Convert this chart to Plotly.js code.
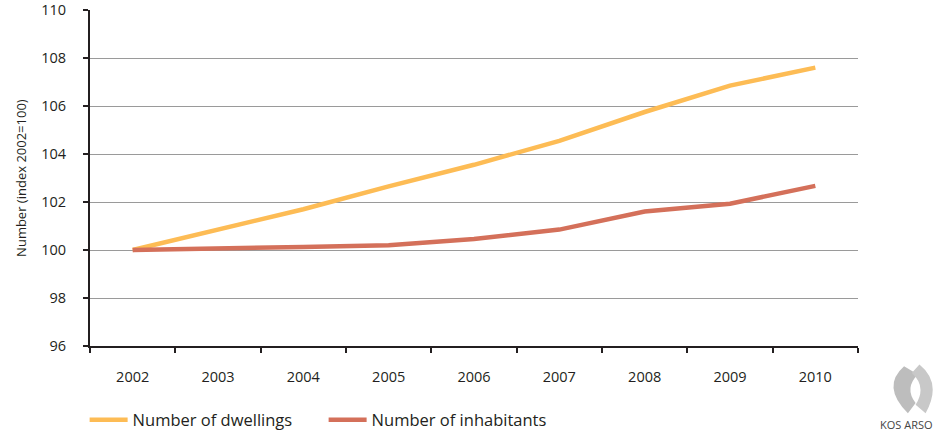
<!DOCTYPE html>
<html>
<head>
<meta charset="utf-8">
<script src="https://cdn.plot.ly/plotly-3.0.1.min.js"></script>
<style>html,body{margin:0;padding:0;background:#fff;}#chart{width:933px;height:435px;}</style>
</head>
<body>
<div id="chart"></div>
<script>
var years = ["2002","2003","2004","2005","2006","2007","2008","2009","2010"];
var dwellings = [100, 100.85, 101.7, 102.65, 103.55, 104.55, 105.75, 106.85, 107.6];
var inhabitants = [100, 100.05, 100.13, 100.2, 100.46, 100.85, 101.6, 101.93, 102.67];
var seriesNames = ["Number of dwellings", "Number of inhabitants"];
var seriesColors = ["#FDBC55", "#D4705A"];
var yTicks = [96, 98, 100, 102, 104, 106, 108, 110];

var FONT = "'Open Sans', Lato, sans-serif";

var traces = [
  {x: years, y: dwellings, name: seriesNames[0], type: "scatter", mode: "lines",
   line: {color: seriesColors[0], width: 4.5}},
  {x: years, y: inhabitants, name: seriesNames[1], type: "scatter", mode: "lines",
   line: {color: seriesColors[1], width: 4.5}}
];

var layout = {
  width: 933, height: 435,
  margin: {l: 90, r: 75, t: 10, b: 89, autoexpand: false},
  paper_bgcolor: "#fff", plot_bgcolor: "#fff",
  font: {family: FONT, size: 14, color: "#231f20"},
  showlegend: true,
  legend: {orientation: "h", x: -0.007, xanchor: "left", y: -0.22, yanchor: "middle",
           font: {family: FONT, size: 16.5, color: "#231f20"},
           entrywidth: 186, entrywidthmode: "pixels", itemwidth: 38},
  xaxis: {type: "category", range: [-0.5, 8.5], showgrid: false, zeroline: false,
          showline: true, linecolor: "#231f20", linewidth: 2,
          ticks: "outside", tickson: "boundaries", ticklen: 5, tickwidth: 2, tickcolor: "#231f20",
          ticklabelstandoff: 17, tickfont: {family: FONT, size: 14.5}},
  yaxis: {range: [96, 110], tickvals: yTicks, showgrid: true, gridcolor: "#9a9a9a", gridwidth: 1,
          zeroline: false, showline: true, linecolor: "#231f20", linewidth: 2,
          ticks: "outside", ticklen: 5, tickwidth: 2, tickcolor: "#231f20",
          ticklabelstandoff: 14, tickfont: {family: FONT, size: 14.5}},
  annotations: [
    {xref: "paper", yref: "paper", x: -0.09, y: 0.5, xanchor: "center", yanchor: "middle",
     textangle: -90, text: "Number (index 2002=100)", showarrow: false,
     font: {family: FONT, size: 13, color: "#231f20"}},
    {xref: "paper", yref: "paper", x: 1.026, y: -0.262, xanchor: "left", yanchor: "bottom",
     text: "KOS ARSO", showarrow: false, font: {family: FONT, size: 11, color: "#444"}}
  ],
  shapes: [
    {type: "path", xref: "paper", yref: "paper", layer: "above",
     path: "M 1.06 -0.06 Q 1.03 -0.12 1.065 -0.2 L 1.075 -0.17 Q 1.06 -0.125 1.078 -0.085 Z",
     fillcolor: "#bdbdbd", line: {width: 0}},
    {type: "path", xref: "paper", yref: "paper", layer: "above",
     path: "M 1.08 -0.055 Q 1.11 -0.11 1.088 -0.2 L 1.075 -0.175 Q 1.09 -0.12 1.07 -0.08 Z",
     fillcolor: "#c8c8c8", line: {width: 0}}
  ]
};

Plotly.newPlot("chart", traces, layout, {displayModeBar: false, staticPlot: true});
</script>
</body>
</html>
